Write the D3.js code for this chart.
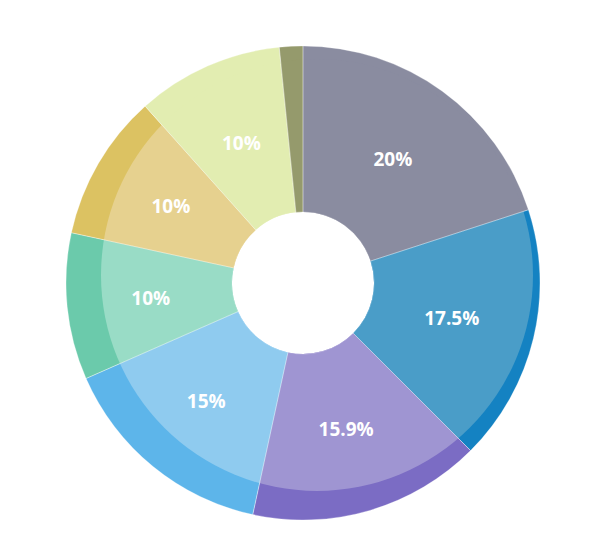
<!DOCTYPE html>
<html><head><meta charset="utf-8">
<script src="https://cdn.jsdelivr.net/npm/d3@7"></script>
<style>html,body{margin:0;padding:0;background:#fff;}svg{display:block;}</style>
</head><body>
<svg id="chart" width="600" height="545"></svg>
<script>
const categories = ["A","B","C","D","E","F","G","H"];
const values = [20, 17.5, 15.9, 15, 10, 10, 10, 1.6];
const labels = ["20%","17.5%","15.9%","15%","10%","10%","10%",""];
const outerColors = ["#8a8ca0","#1482c2","#7b6cc4","#5db5ea","#6bcaab","#dcc262","#e2edb1","#959a6c"];
const innerColors = ["#8a8ca0","#4a9dc8","#9f95d2","#8fcbef","#99dcc6","#e6d18f","#e2edb1","#959a6c"];

const svg = d3.select("#chart");
const cx = 303, cy = 283, R = 237, r0 = 71;
const data = categories.map((c,i)=>({cat:c, value:values[i], i}));
const pie = d3.pie().sort(null).value(d=>d.value);
const arcs = pie(data);
const arcOuter = d3.arc().innerRadius(r0).outerRadius(R);
const arcLabel = d3.arc().innerRadius(153).outerRadius(153);

const defs = svg.append("defs");
defs.append("clipPath").attr("id","lightClip")
  .append("circle").attr("cx", 14).attr("cy", -8).attr("r", 216);

const g = svg.append("g").attr("transform",`translate(${cx},${cy})`);
g.selectAll("path.outer").data(arcs).join("path")
  .attr("class","outer")
  .attr("d", arcOuter)
  .attr("fill", d=>outerColors[d.data.i]);

const gl = g.append("g").attr("clip-path","url(#lightClip)");
gl.selectAll("path.inner").data(arcs).join("path")
  .attr("class","inner")
  .attr("d", arcOuter)
  .attr("fill", d=>innerColors[d.data.i]);

g.selectAll("path.sep").data(arcs).join("path")
  .attr("class","sep")
  .attr("d", arcOuter)
  .attr("fill","none")
  .attr("stroke","rgba(255,255,255,0.35)")
  .attr("stroke-width",0.8);

g.selectAll("text.lbl").data(arcs).join("text")
  .attr("class","lbl")
  .attr("transform", d=>`translate(${arcLabel.centroid(d)})`)
  .attr("text-anchor","middle")
  .attr("dy","0.35em")
  .attr("fill","#fff")
  .attr("font-family","'Open Sans', sans-serif")
  .attr("font-weight","bold")
  .attr("font-size","19px")
  .text(d=>labels[d.data.i]);
</script>
</body></html>
